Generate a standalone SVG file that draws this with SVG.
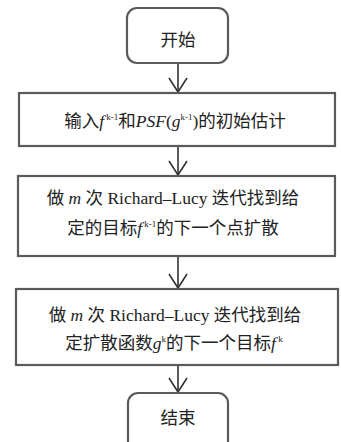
<svg xmlns="http://www.w3.org/2000/svg" width="341" height="442" viewBox="0 0 341 442">
<defs>
<style>
.box{fill:#fff;stroke:#5a5a5a;stroke-width:2.2}
.t{font-family:"Liberation Serif","Noto Sans CJK SC",serif;font-size:17.5px;fill:#222;text-anchor:middle}
.i{font-style:italic}
.s{font-size:9px}
.c{stroke:#333;stroke-width:1.6;fill:none}
</style>
<marker id="ah" viewBox="0 0 16 20" refX="15" refY="10" markerWidth="16" markerHeight="20" markerUnits="userSpaceOnUse" orient="auto">
<path d="M1,1 L15,10 L1,19" fill="none" stroke="#333" stroke-width="1.6"/>
</marker>
</defs>
<rect width="341" height="442" fill="#fff"/>
<g id="connectors">
<line class="c" x1="178" y1="63" x2="178" y2="92" marker-end="url(#ah)"/>
<line class="c" x1="178" y1="146" x2="178" y2="175" marker-end="url(#ah)"/>
<line class="c" x1="178" y1="256" x2="178" y2="288" marker-end="url(#ah)"/>
<line class="c" x1="178" y1="365" x2="178" y2="392" marker-end="url(#ah)"/>
</g>
<g id="start">
<rect class="box" x="127" y="8" width="101" height="55" rx="10"/>
<text class="t" x="178" y="46">开始</text>
</g>
<g id="input">
<rect class="box" x="19" y="93" width="316" height="53"/>
<text class="t" x="175" y="127">输入<tspan class="i">f</tspan><tspan class="s" dy="-7"> k-1</tspan><tspan dy="7">和</tspan><tspan class="i">PSF</tspan>(<tspan class="i">g</tspan><tspan class="s" dy="-7">k-1</tspan><tspan dy="7">)的初始估计</tspan></text>
</g>
<g id="step1">
<rect class="box" x="18" y="176" width="317" height="80"/>
<text class="t" x="173" y="204">做 <tspan class="i">m</tspan> 次 Richard–Lucy 迭代找到给</text>
<text class="t" x="173" y="234">定的目标<tspan class="i">f</tspan><tspan class="s" dy="-7"> k-1</tspan><tspan dy="7">的下一个点扩散</tspan></text>
</g>
<g id="step2">
<rect class="box" x="16" y="289" width="322" height="76"/>
<text class="t" x="175" y="321">做 <tspan class="i">m</tspan> 次 Richard–Lucy 迭代找到给</text>
<text class="t" x="174" y="349">定扩散函数<tspan class="i">g</tspan><tspan class="s" dy="-7">k</tspan><tspan dy="7">的下一个目标</tspan><tspan class="i">f</tspan><tspan class="s" dy="-7"> k</tspan></text>
</g>
<g id="end">
<rect class="box" x="128" y="393" width="100" height="62" rx="10"/>
<text class="t" x="178" y="424">结束</text>
</g>
</svg>
